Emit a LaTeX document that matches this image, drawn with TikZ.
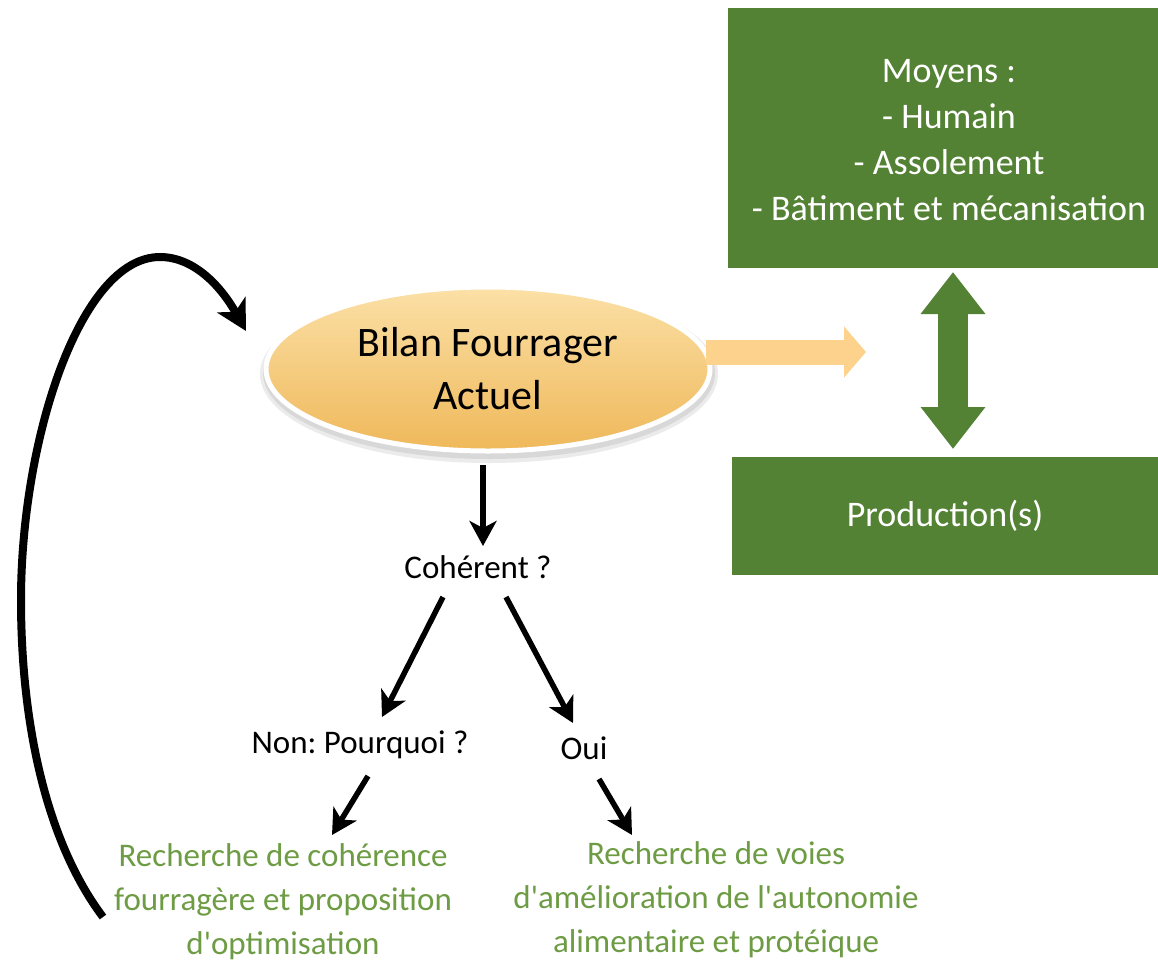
\documentclass[tikz,border=0pt]{standalone}
\usepackage{fontspec}
\setmainfont{Carlito}[Ligatures=TeXOff]
\usetikzlibrary{arrows.meta,shapes.geometric,shadows,calc}
\definecolor{boxgreen}{HTML}{548235}
\definecolor{txtgreen}{HTML}{6E9C45}
\definecolor{paleorange}{HTML}{FCD28C}
\definecolor{elltop}{HTML}{FBE0A6}
\definecolor{ellbot}{HTML}{EFB85A}
\tikzset{
  greenbox/.style={rectangle, fill=boxgreen, text=white, align=center, inner sep=0pt},
  blk/.style={line width=5.5pt, draw=black, -{Stealth[length=25pt,width=27pt,inset=7pt]}},
  qtext/.style={font=\fontsize{33}{44}\selectfont, align=center, inner sep=0pt},
  gtext/.style={font=\fontsize{33}{44}\selectfont, text=txtgreen, align=center, inner sep=0pt},
}
\frenchspacing
\begin{document}
\frenchspacing
\begin{tikzpicture}[x=1pt,y=-1pt]
\fill[white] (0,0) rectangle (1158,962);
\useasboundingbox (0,0) rectangle (1158,962);

% ellipse
\fill[black, opacity=0.08] (489,374) ellipse (229pt and 89pt);
\fill[black, opacity=0.08] (489,373) ellipse (226pt and 86pt);
\node[ellipse, minimum width=444pt, minimum height=164pt, inner sep=0pt,
      top color=elltop, bottom color=ellbot, draw=white, line width=5pt,
      font=\fontsize{42}{53}\selectfont, align=center] (bilan) at (488,369)
      {Bilan Fourrager\\Actuel};

% green boxes
\node[greenbox, minimum width=430pt, minimum height=260pt] (moyens) at (943,138) {};
\node[font=\fontsize{36}{46}\selectfont, text=white, align=center, inner sep=0pt] (moytxt) at (949,140)
      {Moyens :\\- Humain\\- Assolement\\- Bâtiment et mécanisation};
\node[greenbox, minimum width=426pt, minimum height=118pt,
      font=\fontsize{36}{46}\selectfont] (prod) at (945,516) {Production(s)};

% green double arrow
\coordinate (da1) at (953,272);
\coordinate (da2) at (953,449);
\draw[boxgreen, line width=30pt,
      {Triangle[length=42pt,width=62pt]}-{Triangle[length=42pt,width=62pt]}] (da1) -- (da2);

% orange arrow
\coordinate (oa1) at (706,352);
\coordinate (oa2) at (866,352);
\draw[paleorange, line width=25pt, -{Triangle[length=22pt,width=50pt]}] (oa1) -- (oa2);

% text nodes
\node[qtext] (coh) at (478,567) {Cohérent ?};
\node[qtext] (non) at (360,745) {Non: Pourquoi ?};
\node[qtext] (oui) at (584,748) {Oui};
\node[gtext] (rc) at (283,902) {Recherche de cohérence\\fourragère et proposition\\d'optimisation};
\node[gtext] (rv) at (716,900) {Recherche de voies\\d'amélioration de l'autonomie\\alimentaire et protéique};

% black arrows
\coordinate (a1s) at (483,465);
\coordinate (a1e) at (483,546);
\draw[blk] (a1s) -- (a1e);
\coordinate (a2s) at (443,597);
\coordinate (a2e) at (382,717);
\draw[blk] (a2s) -- (a2e);
\coordinate (a3s) at (506,597);
\coordinate (a3e) at (573,723);
\draw[blk] (a3s) -- (a3e);
\coordinate (a4s) at (368,776);
\coordinate (a4e) at (332,835);
\draw[blk] (a4s) -- (a4e);
\coordinate (a5s) at (599,779);
\coordinate (a5e) at (632,835);
\draw[blk] (a5s) -- (a5e);

% loop arrow
\coordinate (ls) at (103,917);
\coordinate (le) at (246,331);
\draw[line width=8pt, -{Stealth[length=30pt,width=32pt,inset=8pt]}]
  (ls) .. controls (45,840) and (21,720) .. (21,600)
       .. controls (21,440) and (80,257) .. (160,257)
       .. controls (195,257) and (222,288) .. (le);
\end{tikzpicture}
\end{document}
